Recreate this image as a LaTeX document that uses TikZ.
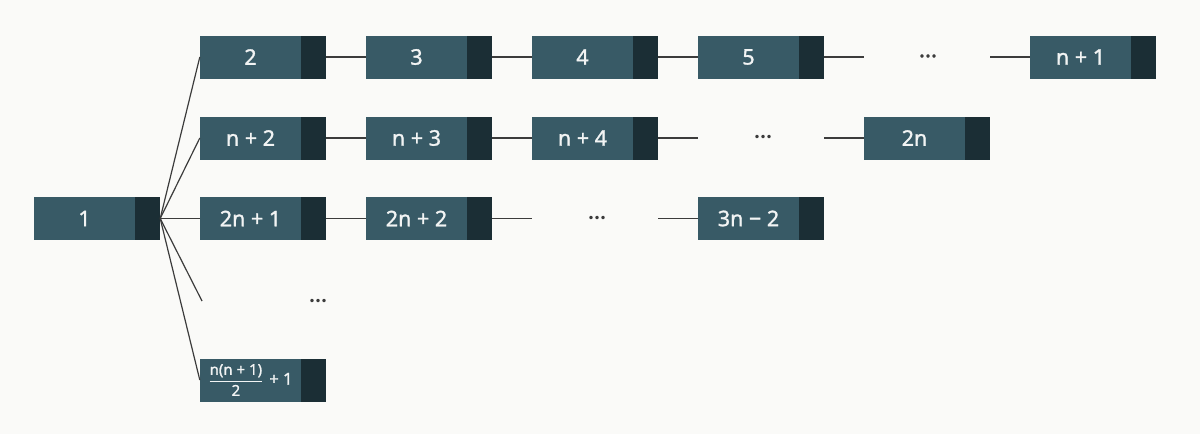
\documentclass[tikz,border=0pt]{standalone}
\usepackage{amsmath}
\usepackage{fontspec}
\setmainfont{Noto Sans}[FakeBold=1.3]
\newfontfamily\dotsfont{Noto Sans}[FakeBold=1]
\definecolor{bg}{HTML}{FAFAF8}
\definecolor{boxlight}{HTML}{385A66}
\definecolor{boxdark}{HTML}{1B2E35}
\definecolor{linecol}{HTML}{3C3C3C}
\definecolor{textcol}{HTML}{F2F4F4}
\tikzset{
  cell/.style={rectangle, fill=boxlight, inner xsep=0pt, inner ysep=0pt,
    minimum width=126pt, minimum height=43pt, text=textcol,
    font=\fontsize{21.5}{24}\selectfont,
    path picture={\fill[boxdark] ([xshift=-25pt]path picture bounding box.north east) rectangle (path picture bounding box.south east);}},
  link/.style={draw=linecol, line width=1.2pt},
  dots/.style={text=linecol, inner sep=0pt, font=\dotsfont\fontsize{23}{26}\selectfont}
}
\newcommand{\celltext}[1]{\makebox[101pt]{#1}\hspace*{25pt}}
\begin{document}
\begin{tikzpicture}[x=1pt,y=-1pt]
\fill[bg] (0,0) rectangle (1200,434);
\useasboundingbox (0,0) rectangle (1200,434);
% root
\node[cell] (b1) at (97,218.5) {\celltext{1}};
% row 1
\node[cell] (b2) at (263,57) {\celltext{2}};
\node[cell] (b3) at (429,57) {\celltext{3}};
\node[cell] (b4) at (595,57) {\celltext{4}};
\node[cell] (b5) at (761,57) {\celltext{5}};
\node[cell] (bn1) at (1093,57) {\celltext{n + 1}};
\coordinate (c1a) at (864,57);
\coordinate (c1b) at (990,57);
\node[dots] (d1) at (928,56) {…};
% row 2
\node[cell] (bn2) at (263,138) {\celltext{n + 2}};
\node[cell] (bn3) at (429,138) {\celltext{n + 3}};
\node[cell] (bn4) at (595,138) {\celltext{n + 4}};
\node[cell] (b2n) at (927,138) {\celltext{2n}};
\coordinate (c2a) at (698,138);
\coordinate (c2b) at (824,138);
\node[dots] (d2) at (763,136.5) {…};
% row 3
\node[cell] (b2n1) at (263,218.5) {\celltext{2n + 1}};
\node[cell] (b2n2) at (429,218.5) {\celltext{2n + 2}};
\node[cell] (b3n2) at (761,218.5) {\celltext{3n − 2}};
\coordinate (c3a) at (532,218.5);
\coordinate (c3b) at (658,218.5);
\node[dots] (d3) at (597,217.5) {…};
% row 4
\coordinate (c4) at (202,301);
\node[dots] (d4) at (318,300.5) {…};
% last row
\node[cell] (bf) at (263,380) {\celltext{\fontsize{15}{17}\selectfont $\genfrac{}{}{1.1pt}{0}{\text{n(n + 1)}}{\text{2}}$\hspace{6pt}{\fontsize{16.5}{18}\selectfont + 1}}};
% connectors row 1
\draw[link] (b2.east) -- (b3.west);
\draw[link] (b3.east) -- (b4.west);
\draw[link] (b4.east) -- (b5.west);
\draw[link] (b5.east) -- (c1a);
\draw[link] (c1b) -- (bn1.west);
% row 2
\draw[link] (bn2.east) -- (bn3.west);
\draw[link] (bn3.east) -- (bn4.west);
\draw[link] (bn4.east) -- (c2a);
\draw[link] (c2b) -- (b2n.west);
% row 3
\draw[link] (b2n1.east) -- (b2n2.west);
\draw[link] (b2n2.east) -- (c3a);
\draw[link] (c3b) -- (b3n2.west);
% fan
\draw[link] (b1.east) -- (b2.west);
\draw[link] (b1.east) -- (bn2.west);
\draw[link] (b1.east) -- (b2n1.west);
\draw[link] (b1.east) -- (c4);
\draw[link] (b1.east) -- (bf.west);
\end{tikzpicture}
\end{document}
